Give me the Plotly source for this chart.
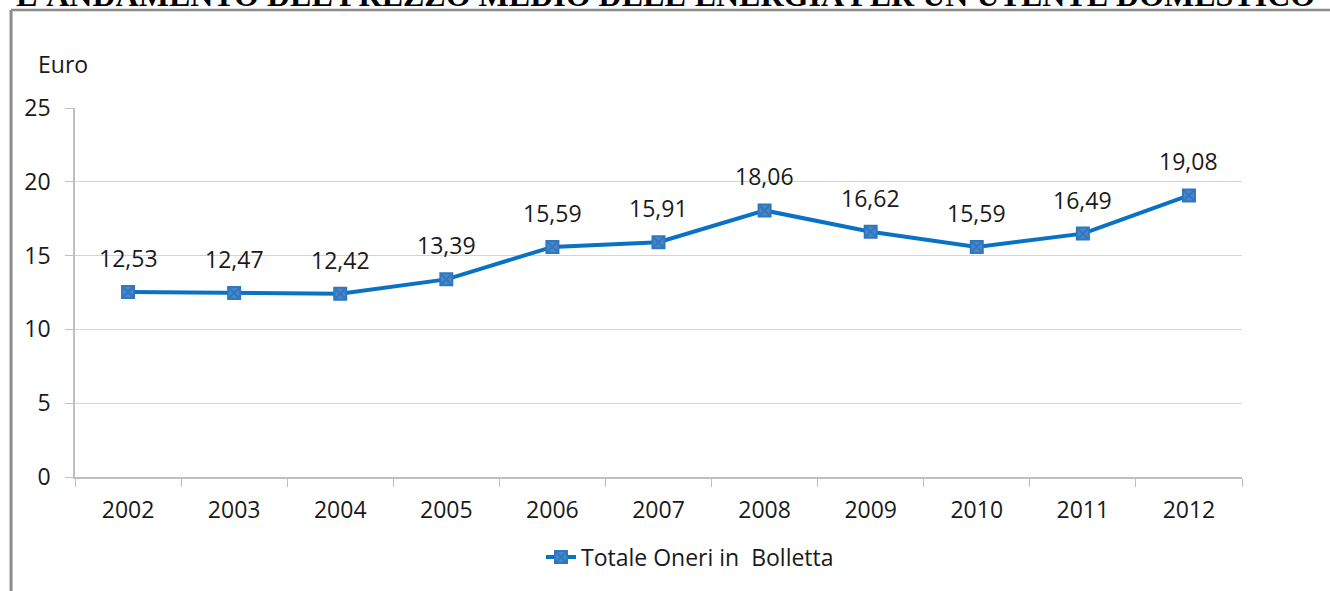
import plotly.graph_objects as go

years = ["2002", "2003", "2004", "2005", "2006", "2007", "2008", "2009", "2010", "2011", "2012"]
values = [12.53, 12.47, 12.42, 13.39, 15.59, 15.91, 18.06, 16.62, 15.59, 16.49, 19.08]
labels = ["12,53", "12,47", "12,42", "13,39", "15,59", "15,91", "18,06", "16,62", "15,59", "16,49", "19,08"]
y_ticks = [0, 5, 10, 15, 20, 25]
series_name = "Totale Oneri in\u00a0\u00a0Bolletta"
title_text = "L'ANDAMENTO DEL PREZZO MEDIO DELL'ENERGIA PER UN UTENTE DOMESTICO"

FONT = "Open Sans"
fig = go.Figure()
fig.add_trace(go.Scatter(
    x=years, y=values, mode="lines+markers", name=series_name,
    line=dict(color="#0a72c4", width=4),
    marker=dict(symbol="square-x", size=12, color="#4a86c8",
                line=dict(color="#2f78c0", width=2)),
))

for i, (v, t) in enumerate(zip(values, labels)):
    fig.add_annotation(x=i, y=v, text=t, showarrow=False, yshift=34,
                       font=dict(family=FONT, size=23, color="#1a1a1a"))

fig.add_annotation(xref="paper", yref="paper", x=-0.033, y=1.119, text="Euro",
                   showarrow=False, xanchor="left", yanchor="middle",
                   font=dict(family=FONT, size=23, color="#1a1a1a"))

fig.add_annotation(xref="paper", yref="paper", x=0.5056, y=1.251, text="<b>" + title_text + "</b>",
                   showarrow=False, xanchor="center", yanchor="bottom",
                   font=dict(family="Liberation Serif", size=32, color="#000000"))

# frame
fig.add_shape(type="line", xref="paper", yref="paper", x0=-0.0548, x1=1.1, y0=1.2656, y1=1.2656,
              line=dict(color="#8c8c8c", width=2.5))
fig.add_shape(type="line", xref="paper", yref="paper", x0=-0.0548, x1=-0.0548, y0=-0.4, y1=1.2656,
              line=dict(color="#8c8c8c", width=3))

fig.update_layout(
    width=1330, height=591,
    margin=dict(l=75, r=88, t=108, b=114),
    paper_bgcolor="white", plot_bgcolor="white",
    showlegend=True,
    legend=dict(orientation="h", x=0.527, xanchor="center", y=-0.217, yanchor="middle",
                font=dict(family=FONT, size=23, color="#1a1a1a")),
    xaxis=dict(type="category", tickson="boundaries", ticks="outside", ticklen=8,
               tickcolor="#bfbfbf", showline=True, linecolor="#bfbfbf", linewidth=1.5,
               showgrid=False, tickfont=dict(family=FONT, size=23, color="#1a1a1a"),
               ticklabelstandoff=12, range=[-0.5, 10.5]),
    yaxis=dict(range=[0, 25], tickvals=y_ticks, ticks="outside", ticklen=8,
               tickcolor="#bfbfbf", showline=True, linecolor="#bfbfbf", linewidth=1.5,
               showgrid=True, gridcolor="#d4d4d4", gridwidth=1, zeroline=False,
               ticklabelstandoff=10,
               tickfont=dict(family=FONT, size=23, color="#1a1a1a")),
)

fig.write_html("out.html", config={"displayModeBar": False},
               post_script="document.body.style.margin='0px';")
